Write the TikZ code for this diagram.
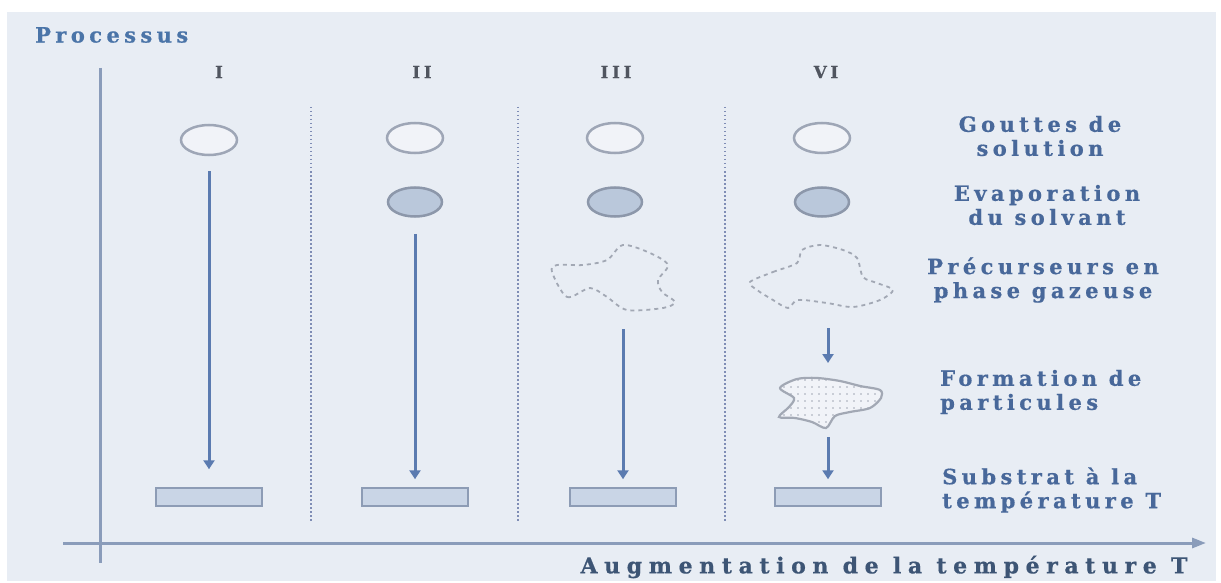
\documentclass[tikz,border=0pt]{standalone}
\usepackage{fontspec}
\setmainfont{DejaVu Serif}
\newfontfamily\lblfont{DejaVuSerif-Bold.ttf}[LetterSpace=21, FakeBold=0.6]
\newfontfamily\augfont{DejaVuSerif-Bold.ttf}[LetterSpace=30, FakeBold=0.6]
\usetikzlibrary{arrows.meta}
\usetikzlibrary{positioning}
\usetikzlibrary{shapes.geometric}
\usetikzlibrary{patterns.meta}

\definecolor{bgcol}{HTML}{E8EDF4}
\definecolor{axiscol}{HTML}{8A9CBA}
\definecolor{flowcol}{HTML}{5B7BB0}
\definecolor{sepcol}{HTML}{7F8DB5}
\definecolor{dropline}{HTML}{9EA6B6}
\definecolor{dropfill}{HTML}{F1F3F8}
\definecolor{evapline}{HTML}{8C97AA}
\definecolor{evapfill}{HTML}{BAC8DB}
\definecolor{subline}{HTML}{8D9CB5}
\definecolor{subfill}{HTML}{C9D5E6}
\definecolor{gasline}{HTML}{A2A8B4}
\definecolor{legcol}{HTML}{48689A}
\definecolor{titlecol}{HTML}{4A74A8}
\definecolor{augcol}{HTML}{3D5575}
\definecolor{headcol}{HTML}{50555F}

\begin{document}
\begin{tikzpicture}[x=1pt, y=-1pt,
  drop/.style={ellipse, draw=dropline, fill=dropfill, line width=2.5pt,
    minimum width=56pt, minimum height=30pt, inner sep=0pt},
  evap/.style={ellipse, draw=evapline, fill=evapfill, line width=2.5pt,
    minimum width=54pt, minimum height=29pt, inner sep=0pt},
  subbox/.style={rectangle, draw=subline, fill=subfill, line width=1.5pt,
    minimum width=106pt, minimum height=18pt, inner sep=0pt},
  flow/.style={draw=flowcol, line width=3pt, -{Triangle[length=9pt,width=11pt]}},
  gas/.style={draw=gasline, line width=1.8pt, dash pattern=on 4pt off 4pt},
  sepline/.style={draw=sepcol, line width=1.5pt, dash pattern=on 1.5pt off 2.5pt},
  axis/.style={draw=axiscol, line width=3pt},
  legend/.style={font=\lblfont\fontsize{21}{24}\selectfont,
    text=legcol, align=center, inner sep=0pt},
  head/.style={font=\lblfont\fontsize{17}{20}\selectfont,
    text=headcol, inner sep=0pt}
]

\useasboundingbox (0,0) rectangle (1221,583);
\fill[bgcol] (7,12) rectangle (1216,581);

% axes
\draw[axis] (100,68) -- (100,563);
\draw[axis, -{Triangle[length=14pt,width=10pt]}] (63,543) -- (1206,543);
\node[legend, anchor=west, text=titlecol] (proc) at (35,35) {Processus};
\node[legend, font=\augfont\fontsize{22}{24}\selectfont, text=augcol]
    (aug) at (884,567) {Augmentation de la température T};

% column separators
\draw[sepline] (311,107) -- (311,523);
\draw[sepline] (518,107) -- (518,523);
\draw[sepline] (725,107) -- (725,523);

\node[head] (hI) at (219,72) {I};
\node[head] (hII) at (422,72) {II};
\node[head] (hIII) at (616,72) {III};
\node[head] (hVI) at (826,72) {VI};

% droplets
\node[drop] (dropI) at (209,140) {};
\node[drop] (dropII) at (415,138) {};
\node[drop] (dropIII) at (615,138) {};
\node[drop] (dropVI) at (822,138) {};

\node[evap] (evapII) at (415,202) {};
\node[evap] (evapIII) at (615,202) {};
\node[evap] (evapVI) at (822,202) {};

% gas phase
\draw[gas] plot [smooth cycle, tension=0.5] coordinates {
    (552,272) (567,297) (590,288) (607,297) (627,310) (663,308) (675,302)
    (662,292) (658,280) (668,265) (650,253) (623,245) (607,260) (583,265) (557,265)};
\draw[gas] plot [smooth cycle, tension=0.5] coordinates {
    (750,282) (773,272) (797,263) (802,250) (820,245) (843,250) (857,258)
    (863,277) (877,283) (893,290) (880,300) (853,307) (827,303) (798,300)
    (788,308) (773,300) (757,290)};
\coordinate (gasIII) at (623,312);
\coordinate (gasVI) at (828,310);

% particle
\draw[draw=gasline, line width=2.2pt, preaction={fill=dropfill},
    pattern={Dots[distance=7pt, radius=0.8pt]}, pattern color=gasline]
    plot [smooth cycle, tension=0.5] coordinates {
    (780,388) (797,379) (817,378) (840,381) (860,386) (880,390) (881,398)
    (870,408) (850,412) (835,416) (826,428) (812,422) (795,418) (779,417)
    (789,407) (794,398)};
\coordinate (partTop) at (828,377);
\coordinate (partBot) at (828,428);

% substrates
\node[subbox] (subI) at (209,497) {};
\node[subbox] (subII) at (415,497) {};
\node[subbox] (subIII) at (623,497) {};
\node[subbox] (subVI) at (828,497) {};

\draw[flow, shorten <=15pt, shorten >=18pt] (dropI) -- (subI);
\draw[flow, shorten <=16pt, shorten >=8pt] (evapII) -- (subII);
\draw[flow, shorten <=17pt, shorten >=8pt] (gasIII) -- (subIII);
\draw[flow, shorten <=18pt, shorten >=14pt] (gasVI) -- (partTop);
\draw[flow, shorten <=9pt, shorten >=8pt] (partBot) -- (subVI);

% legend texts
\node[legend] (lbGout) at (1040,136) {Gouttes de\\solution};
\node[legend] (lbEvap) at (1047,205) {Evaporation\\du solvant};
\node[legend] (lbPrec) at (1043,280) {Précurseurs en\\phase gazeuse};
\node[legend, align=left, anchor=west] (lbForm) at (940,392) {Formation de\\particules};
\node[legend, align=left, anchor=west] (lbSub) at (942,490) {Substrat à la\\température T};

\end{tikzpicture}
\end{document}
